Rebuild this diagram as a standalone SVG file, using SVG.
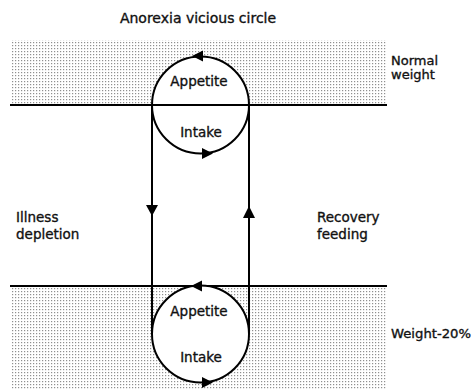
<svg xmlns="http://www.w3.org/2000/svg" width="476" height="390" viewBox="0 0 476 390">
<style>
text{font-family:"DejaVu Sans","Liberation Sans",sans-serif;fill:#111;stroke:#111;stroke-width:0.35;}
.lbl{font-size:13.5px;}
.in{font-size:13.5px;text-anchor:middle;}
.ln{stroke:#000;stroke-width:2;fill:none;}
.circ{stroke:#000;stroke-width:2;fill:#fff;}
.ah{fill:#000;}
</style>
<defs>
<pattern id="dots" width="3" height="3" patternUnits="userSpaceOnUse">
<rect x="0" y="0" width="3" height="3" fill="#fff"/>
<rect x="0" y="0" width="1.2" height="1.2" fill="#8f8f8f"/>
</pattern>
</defs>
<rect width="476" height="390" fill="#fff"/>
<g id="bands">
<rect x="12" y="40" width="375" height="65" fill="url(#dots)"/>
<rect x="12" y="286" width="375" height="104" fill="url(#dots)"/>
<line class="ln" x1="10" y1="105" x2="387" y2="105"/>
<line class="ln" x1="10" y1="286" x2="387" y2="286"/>
</g>
<text x="198" y="23" font-size="14" text-anchor="middle">Anorexia vicious circle</text>
<g id="connectors">
<line class="ln" x1="152" y1="105" x2="152" y2="334"/>
<line class="ln" x1="249" y1="105" x2="249" y2="334"/>
<polygon class="ah" points="146,205 158,205 152,216"/>
<polygon class="ah" points="243,218 255,218 249,206"/>
</g>
<g id="top-circle">
<circle class="circ" cx="200.5" cy="105" r="48.5"/>
<line class="ln" x1="152" y1="105" x2="249" y2="105"/>
<polygon class="ah" points="192,56 203,50.5 203,61.5"/>
<polygon class="ah" points="213,153.5 202,148 202,159"/>
<text x="199" y="86" class="in">Appetite</text>
<text x="201" y="137" class="in">Intake</text>
</g>
<g id="bottom-circle">
<circle class="circ" cx="200.5" cy="334" r="48.5"/>
<polygon class="ah" points="191,286 202,280.5 202,291.5"/>
<polygon class="ah" points="213,382.5 202,377 202,388"/>
<text x="199" y="316" class="in">Appetite</text>
<text x="201" y="362" class="in">Intake</text>
</g>
<g id="label-illness">
<text x="16" y="222" class="lbl">Illness</text>
<text x="16" y="239" class="lbl">depletion</text>
</g>
<g id="label-recovery">
<text x="317" y="222" class="lbl">Recovery</text>
<text x="317" y="239" class="lbl">feeding</text>
</g>
<g id="label-normal">
<text x="391" y="65" font-size="13">Normal</text>
<text x="391" y="79" font-size="13">weight</text>
</g>
<g id="label-weight20">
<text x="391" y="338" font-size="13" textLength="80" lengthAdjust="spacingAndGlyphs">Weight-20%</text>
</g>
</svg>
